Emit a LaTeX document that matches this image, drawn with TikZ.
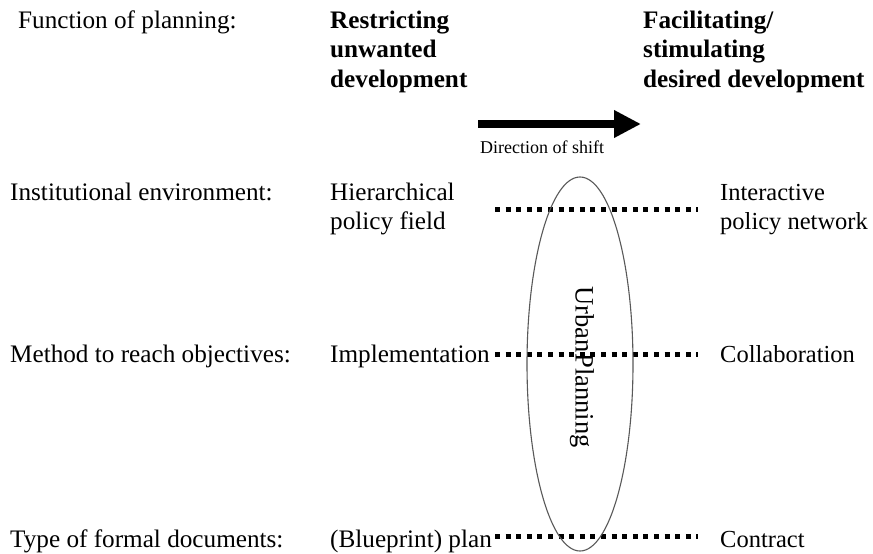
\documentclass[tikz,border=0pt]{standalone}
\usepackage{fontspec}
\setmainfont{Liberation Serif}
\usetikzlibrary{arrows.meta,shapes.geometric}
\begin{document}
\begin{tikzpicture}[x=1pt,y=-1pt,
  lbl/.style={anchor=base west,inner sep=0pt,font=\fontsize{25.2}{29}\selectfont,align=left},
  rlbl/.style={lbl,font=\fontsize{24.5}{29}\selectfont},
  head/.style={lbl,font=\fontsize{25.2}{29.5}\selectfont\bfseries},
  link/.style={line width=5pt,dash pattern=on 5pt off 5.6pt},
  shiftarrow/.style={line width=7.5pt,-{Triangle[length=27pt,width=26pt]}}]
\useasboundingbox[fill=white] (0,0) rectangle (873,554);

% column headings (multi-line nodes sit on the baseline of their last line)
\node[lbl] (fn) at (18,28) {Function of planning:};
\node[head] (rs) at (330,87) {Restricting\\unwanted\\development};
\node[head] (fc) at (643,87) {Facilitating/\\stimulating\\desired development};

% direction of shift
\coordinate (a0) at (478,124);
\coordinate (a1) at (641,124);
\draw[shiftarrow] (a0) -- (a1);
\node[anchor=base west,inner sep=0pt,font=\fontsize{18}{20}\selectfont] (ds) at (480,153) {Direction of shift};

% row labels
\node[lbl] (r1) at (10,200) {Institutional environment:};
\node[lbl] (r2) at (10,362) {Method to reach objectives:};
\node[lbl] (r3) at (10,547) {Type of formal documents:};

% left column
\node[lbl] (h1) at (330,229) {Hierarchical\\policy field};
\node[lbl] (h2) at (330,362) {Implementation};
\node[lbl] (h3) at (330,547) {(Blueprint) plan};

% right column
\node[rlbl] (f1) at (720,229) {Interactive\\policy network};
\node[rlbl] (f2) at (720,362) {Collaboration};
\node[rlbl] (f3) at (720,547) {Contract};

% dotted links
\coordinate (l1) at (495,209);  \coordinate (e1) at (698,209);
\coordinate (l2) at (495,354);  \coordinate (e2) at (698,354);
\coordinate (l3) at (495,536);  \coordinate (e3) at (698,536);
\draw[link] (l1) -- (e1);
\draw[link] (l2) -- (e2);
\draw[link] (l3) -- (e3);

% urban planning ellipse
\node[draw=black!65,line width=1.1pt,ellipse,inner sep=0pt,
      minimum width=106pt,minimum height=374pt] (up) at (580,364) {};
\node[rotate=-90,inner sep=0pt,font=\fontsize{26.5}{30}\selectfont] (ut) at (582,367) {Urban\kern1ptPlanning};
\end{tikzpicture}
\end{document}
